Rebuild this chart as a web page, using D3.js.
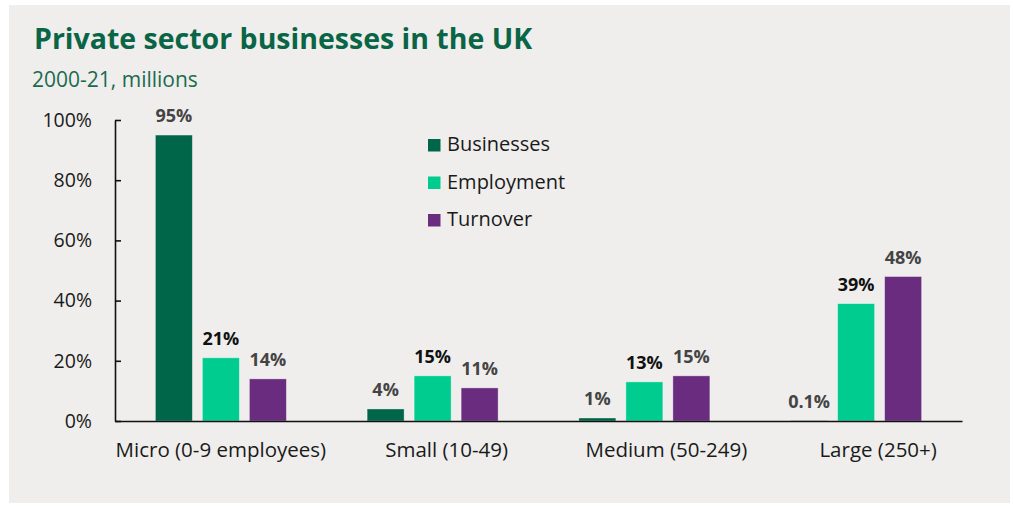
<!DOCTYPE html>
<html>
<head>
<meta charset="utf-8">
<script src="https://cdn.jsdelivr.net/npm/d3@7"></script>
<style>
  html, body { margin: 0; padding: 0; background: #ffffff; }
  svg { display: block; }
</style>
</head>
<body>
<svg id="chart" width="1013" height="510"></svg>
<script>
// Business size bands
const categories = ["Micro (0-9 employees)", "Small (10-49)", "Medium (50-249)", "Large (250+)"];
// Share of private sector total, per cent
const seriesNames = ["Businesses", "Employment", "Turnover"];
const businesses = [95, 4, 1, 0.1];
const employment = [21, 15, 13, 39];
const turnover   = [14, 11, 15, 48];
const yTicks = [0, 20, 40, 60, 80, 100];

const seriesValues = [businesses, employment, turnover];
const colors = ["#00664a", "#00cc8f", "#6a2c7e"];
const labelColors = ["#444444", "#111111", "#444444"];
// small horizontal nudges for the category labels
const labelShift = [0, 14, 22, 22];

const svg = d3.select("#chart");

// panel background
svg.append("rect")
  .attr("x", 9).attr("y", 5)
  .attr("width", 1001).attr("height", 498)
  .attr("fill", "#efeeec");

// title + subtitle
svg.append("text")
  .attr("x", 34).attr("y", 49)
  .attr("font-family", "'Open Sans', sans-serif")
  .attr("font-weight", 700)
  .attr("font-size", 28.5)
  .attr("fill", "#0a6546")
  .text("Private sector businesses in the UK");

svg.append("text")
  .attr("x", 32).attr("y", 86.5)
  .attr("font-family", "'Open Sans', sans-serif")
  .attr("font-size", 21)
  .attr("fill", "#1b6b4f")
  .text("2000-21, millions");

const plotLeft = 115, plotRight = 962, plotTop = 120, plotBottom = 421;

const y = d3.scaleLinear().domain([0, 100]).range([plotBottom, plotTop]);
const x0 = d3.scaleBand().domain(categories).range([plotLeft, plotRight]).padding(0);
const groupW = 131;
const gOff = (x0.bandwidth() - groupW) / 2;
const x1 = d3.scaleBand().domain(seriesNames).range([gOff, gOff + groupW]).paddingInner(0.213).paddingOuter(0);

const font = "'Open Sans', sans-serif";

// bars
const rows = [];
categories.forEach((c, i) => {
  seriesNames.forEach((s, j) => {
    rows.push({ cat: c, series: s, j: j, value: seriesValues[j][i] });
  });
});

const g = svg.append("g");
g.selectAll("rect.bar")
  .data(rows)
  .join("rect")
  .attr("class", "bar")
  .attr("x", d => x0(d.cat) + x1(d.series))
  .attr("y", d => y(d.value))
  .attr("width", x1.bandwidth())
  .attr("height", d => plotBottom - y(d.value))
  .attr("fill", d => colors[d.j])
  .attr("stroke", "rgba(255,255,255,0.45)")
  .attr("stroke-width", 0.8);

// value labels
g.selectAll("text.val")
  .data(rows)
  .join("text")
  .attr("class", "val")
  .attr("x", d => x0(d.cat) + x1(d.series) + x1.bandwidth() / 2)
  .attr("y", d => y(d.value) - 13)
  .attr("text-anchor", "middle")
  .attr("font-family", font)
  .attr("font-weight", 700)
  .attr("font-size", 18)
  .attr("fill", d => labelColors[d.j])
  .text(d => d.value + "%");

// y axis
const yAxis = svg.append("g")
  .attr("transform", `translate(${plotLeft},0)`)
  .call(d3.axisLeft(y).tickValues(yTicks).tickSizeInner(-6).tickSizeOuter(0).tickPadding(23).tickFormat(d => d + "%"));
yAxis.select(".domain").attr("stroke", "#111").attr("stroke-width", 1.6);
yAxis.selectAll(".tick line").attr("stroke", "#111").attr("stroke-width", 1.6);
yAxis.selectAll(".tick text")
  .attr("font-family", font)
  .attr("font-size", 19.5)
  .attr("fill", "#1a1a1a");

// x axis
const xAxis = svg.append("g")
  .attr("transform", `translate(0,${plotBottom})`)
  .call(d3.axisBottom(x0).tickSize(0).tickPadding(0));
xAxis.select(".domain").attr("stroke", "#111").attr("stroke-width", 1.6);
xAxis.selectAll(".tick text")
  .attr("font-family", font)
  .attr("font-size", 20.5)
  .attr("fill", "#1a1a1a")
  .attr("dy", 0)
  .attr("y", 35.5)
  .attr("dx", (d, i) => labelShift[i]);

// legend
const legend = svg.append("g").attr("transform", "translate(428,139)");
const items = legend.selectAll("g")
  .data(seriesNames)
  .join("g")
  .attr("transform", (d, i) => `translate(0,${i * 37.5})`);
items.append("rect")
  .attr("width", 12.5).attr("height", 12.5)
  .attr("fill", (d, i) => colors[i]);
items.append("text")
  .attr("x", 19).attr("y", 12)
  .attr("font-family", font)
  .attr("font-size", 20)
  .attr("fill", "#1a1a1a")
  .text(d => d);
</script>
</body>
</html>
